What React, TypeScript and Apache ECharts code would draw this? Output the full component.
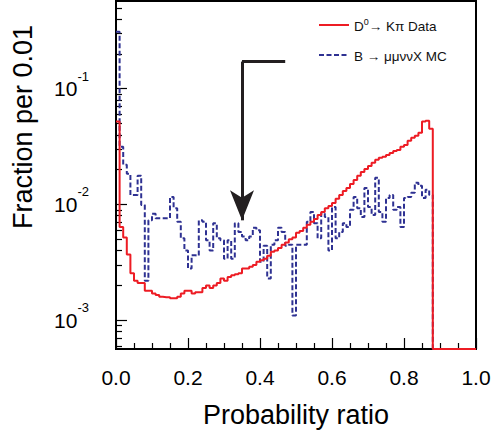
import React, { useEffect, useRef } from "react";
import * as echarts from "echarts";

// Bin width 0.01 in probability ratio, 100 bins from 0.0 to 1.0
const BIN_WIDTH = 0.01;

// D0 -> K pi data (fraction per bin), bins 0..99
const d0KpiData = [
  0.052, 0.0064, 0.0052, 0.0037, 0.00255, 0.0022, 0.0021, 0.0021, 0.0018, 0.0018,
  0.0017, 0.00165, 0.0016, 0.00158, 0.00158, 0.00155, 0.00155, 0.0016, 0.0017, 0.0018,
  0.0018, 0.0017, 0.00175, 0.00175, 0.0019, 0.002, 0.0019, 0.002, 0.0021, 0.0023,
  0.0022, 0.00236, 0.00245, 0.0025, 0.00255, 0.0028, 0.0028, 0.0029, 0.003, 0.0032,
  0.0033, 0.0034, 0.0036, 0.0039, 0.004, 0.0042, 0.0045, 0.0047, 0.005, 0.0052,
  0.0057, 0.0059, 0.0063, 0.0067, 0.0071, 0.0075, 0.0081, 0.0086, 0.0093, 0.0097,
  0.0103, 0.0112, 0.0121, 0.0131, 0.0139, 0.015, 0.0163, 0.0177, 0.0191, 0.0203,
  0.0215, 0.0229, 0.0243, 0.0253, 0.0258, 0.0268, 0.0279, 0.029, 0.0296, 0.0315,
  0.0327, 0.0355, 0.0377, 0.0392, 0.0416, 0.052, 0.0528, 0.045, 0, 0,
  0, 0, 0, 0, 0, 0, 0, 0, 0, 0,
];

// B -> mu mu nu nu X MC (fraction per bin), bins 0..99
const bMumununuMC = [
  0.31, 0.0315, 0.022, 0.0184, 0.0121, 0.0121, 0.0177, 0.0099, 0.0022, 0.0073,
  0.0083, 0.0076, 0.0076, 0.0076, 0.0076, 0.0116, 0.0093, 0.0071, 0.0051, 0.004,
  0.0028, 0.00365, 0.0036, 0.0073, 0.0071, 0.0049, 0.004, 0.0069, 0.0051, 0.0049,
  0.0034, 0.0049, 0.0034, 0.0069, 0.0058, 0.0053, 0.0049, 0.0053, 0.0063, 0.006,
  0.0032, 0.0044, 0.0023, 0.0045, 0.0049, 0.0063, 0.0058, 0.0044, 0.0045, 0.0011,
  0.0045, 0.0045, 0.0045, 0.0071, 0.0086, 0.0069, 0.0051, 0.0084, 0.0078, 0.004,
  0.0095, 0.0051, 0.0058, 0.0069, 0.0064, 0.009, 0.0116, 0.0093, 0.0078, 0.0139,
  0.0095, 0.0081, 0.017, 0.0086, 0.0071, 0.0114, 0.0121, 0.009, 0.0095, 0.0064,
  0.0114, 0.0116, 0.0126, 0.0154, 0.0145, 0.0114, 0.0134, 0.0121, 0, 0,
  0, 0, 0, 0, 0, 0, 0, 0, 0, 0,
];

const seriesNames = ["D0 -> Kpi Data", "B -> mumununuX MC"];
const xTickLabels = ["0.0", "0.2", "0.4", "0.6", "0.8", "1.0"];
const yMajorTicks = [0.001, 0.01, 0.1];
const yMinorTicks = [
  0.0006, 0.0007, 0.0008, 0.0009,
  0.002, 0.003, 0.004, 0.005, 0.006, 0.007, 0.008, 0.009,
  0.02, 0.03, 0.04, 0.05, 0.06, 0.07, 0.08, 0.09,
  0.2, 0.3, 0.4, 0.5,
];
const Y_MIN = 0.000565;
const Y_MAX = 0.572;

// cut arrow annotation (probability ratio 0.35)
const cutValue = 0.35;
const arrowTopY = 0.1714;
const arrowTipY = 0.0073;
const arrowArmEndX = 0.47;

const FONT = "'Liberation Sans', Arial, Helvetica, sans-serif";
const RED = "#ed1c24";
const BLUE = "#2e3192";

function toSteps(vals: number[]) {
  const pts: number[][] = vals.map((v, i) => [
    Math.round(i * BIN_WIDTH * 100) / 100,
    v > 0 ? v : Y_MIN,
  ]);
  const last = vals[vals.length - 1];
  pts.push([1.0, last > 0 ? last : Y_MIN]);
  return pts;
}

export default function App() {
  const ref = useRef<HTMLDivElement>(null);

  useEffect(() => {
    if (!ref.current) return;
    const chart = echarts.init(ref.current, null, { renderer: "svg" });
    const option: any = {
      animation: false,
      backgroundColor: "#ffffff",
      textStyle: { fontFamily: FONT },
      grid: {
        left: 116,
        right: 18,
        top: 1,
        bottom: 91,
        show: true,
        borderColor: "#000",
        borderWidth: 2,
        backgroundColor: "transparent",
      },
      legend: {
        orient: "vertical",
        left: 313,
        top: 12,
        itemWidth: 30,
        itemHeight: 14,
        itemGap: 16,
        selectedMode: false,
        itemStyle: { opacity: 0 },
        formatter: (name: string) =>
          name === seriesNames[0]
            ? "{n|D}{s|0}{n|\u2192 K\u03c0 Data}"
            : "{n|B \u2192 \u03bc\u03bc\u03bd\u03bdX MC}",
        textStyle: {
          fontFamily: FONT,
          fontSize: 13.5,
          color: "#111",
          rich: {
            n: { fontSize: 13.5, lineHeight: 16, verticalAlign: "bottom", fontFamily: FONT, color: "#111" },
            s: { fontSize: 9, lineHeight: 9, verticalAlign: "top", fontFamily: FONT, color: "#111" },
          },
        },
        data: [seriesNames[0], seriesNames[1]],
      },
      xAxis: {
        type: "value",
        min: 0,
        max: 1,
        interval: 0.2,
        name: "Probability ratio",
        nameLocation: "middle",
        nameGap: 52,
        nameTextStyle: { fontSize: 27, color: "#000", fontFamily: FONT },
        axisLine: { show: true, lineStyle: { color: "#000", width: 2 } },
        axisTick: { show: true, inside: true, length: 11, lineStyle: { color: "#000", width: 1.2 } },
        minorTick: { show: true, splitNumber: 4, length: 6, lineStyle: { color: "#000", width: 1.2 } },
        axisLabel: {
          fontSize: 21,
          color: "#000",
          margin: 18,
          fontFamily: FONT,
          formatter: (v: number) => xTickLabels[Math.round(v / 0.2)] ?? v.toFixed(1),
        },
        splitLine: { show: false },
      },
      yAxis: [
        {
          type: "log",
          min: Y_MIN,
          max: Y_MAX,
          axisLine: { show: true, lineStyle: { color: "#000", width: 2 } },
          axisTick: {
            show: true,
            inside: true,
            length: 11,
            customValues: yMajorTicks,
            lineStyle: { color: "#000", width: 1.2 },
          },
          axisLabel: {
            show: true,
            margin: 27,
            customValues: yMajorTicks,
            formatter: (v: number) => {
              const e = Math.round(Math.log10(v));
              return "{b|10}{e|" + e + "}";
            },
            rich: {
              b: { fontSize: 21, lineHeight: 38, verticalAlign: "middle", color: "#000", fontFamily: FONT },
              e: { fontSize: 13, lineHeight: 13, verticalAlign: "top", color: "#000", fontFamily: FONT },
            },
          },
          splitLine: { show: false },
        },
        {
          type: "log",
          min: Y_MIN,
          max: Y_MAX,
          position: "left",
          axisLine: { show: false },
          axisTick: {
            show: true,
            inside: true,
            length: 6,
            customValues: yMinorTicks,
            lineStyle: { color: "#000", width: 1.2 },
          },
          axisLabel: { show: false },
          splitLine: { show: false },
        },
      ],
      graphic: [
        {
          type: "text",
          x: 23,
          y: 127,
          rotation: Math.PI / 2,
          style: {
            text: "Fraction per 0.01",
            fontSize: 27,
            fontFamily: FONT,
            fill: "#000",
            align: "center",
            verticalAlign: "middle",
          },
        },
      ],
      series: [
        {
          name: seriesNames[0],
          type: "line",
          step: "end",
          yAxisIndex: 0,
          symbol: "none",
          clip: false,
          z: 3,
          lineStyle: { color: RED, width: 2 },
          itemStyle: { color: RED },
          data: toSteps(d0KpiData),
          markLine: {
            silent: true,
            animation: false,
            symbol: ["none", "none"],
            label: { show: false },
            lineStyle: { color: "#231f20", width: 3, type: "solid" },
            emphasis: { disabled: true },
            data: [
              [
                { coord: [cutValue, arrowTopY] },
                { coord: [arrowArmEndX, arrowTopY] },
              ],
              [
                { coord: [cutValue, arrowTopY], symbol: "none" },
                { coord: [cutValue, arrowTipY], symbol: "arrow", symbolSize: [18, 30] },
              ],
            ],
          },
        },
        {
          name: seriesNames[1],
          type: "line",
          step: "end",
          yAxisIndex: 0,
          symbol: "none",
          clip: false,
          z: 2,
          lineStyle: { color: BLUE, width: 2, type: [5, 2.5] },
          itemStyle: { color: BLUE },
          data: toSteps(bMumununuMC),
        },
      ],
    };
    chart.setOption(option);
    return () => chart.dispose();
  }, []);

  return (
    <div
      ref={ref}
      style={{ position: "fixed", left: 0, top: 0, width: 494, height: 440, background: "#fff" }}
    />
  );
}
